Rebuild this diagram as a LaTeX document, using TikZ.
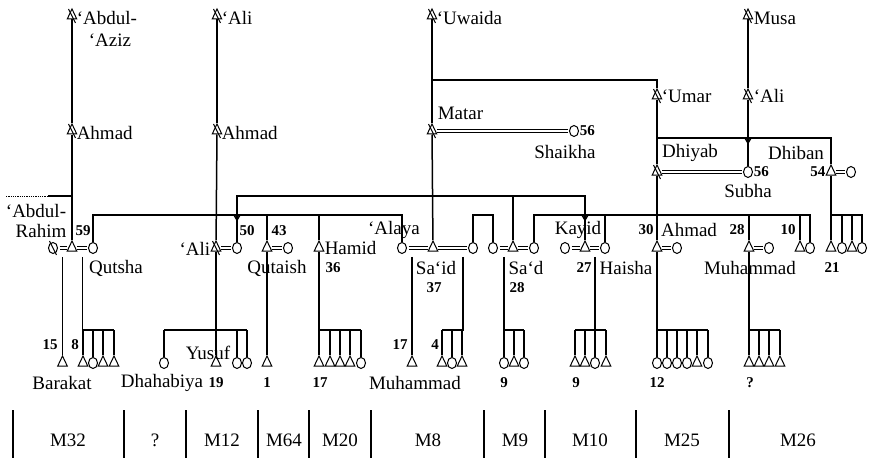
\documentclass[tikz,border=0pt]{standalone}
\usepackage{fontspec}
\setmainfont{Liberation Serif}
\usetikzlibrary{shapes.geometric,calc}

\begin{document}
\begin{tikzpicture}[x=1pt,y=-1pt,line width=1.5pt,
  every node/.style={inner sep=0pt},
  male/.style={draw,isosceles triangle,isosceles triangle stretches,shape border rotate=90,
    minimum width=9.5pt,minimum height=10pt,line width=1pt},
  female/.style={draw,ellipse,minimum width=9pt,minimum height=11pt,line width=1pt},
  deadmale/.style={male,append after command={([shift={(-3.5,-7)}]\tikzlastnode.center)
    edge[line width=1pt] ([shift={(3.5,7)}]\tikzlastnode.center)}},
  deadfemale/.style={female,append after command={([shift={(-3.5,-7)}]\tikzlastnode.center)
    edge[line width=1pt] ([shift={(3.5,7)}]\tikzlastnode.center)}},
  wed/.style={double distance=2pt,line width=0.8pt,shorten <=1.5pt,shorten >=1.5pt},
  nm/.style={font=\fontsize{19}{21}\selectfont},
  num/.style={font=\fontsize{15}{17}\selectfont\bfseries}]
  \useasboundingbox (0,0) rectangle (870,462);

  % upper generations
  \node[deadmale] (aziz) at (72,16) {};
  \node[deadmale] (aliT) at (217,16) {};
  \node[deadmale] (uwaida) at (432,16) {};
  \node[deadmale] (musa) at (748,16) {};
  \node[deadmale] (ahmadA) at (72,131) {};
  \node[deadmale] (ahmadB) at (217,131) {};
  \node[deadmale] (matar) at (432,131) {};
  \node[female] (shaikha) at (574,131) {};
  \node[deadmale] (umar) at (657,96) {};
  \node[deadmale] (aliR) at (748,96) {};
  \node[deadmale] (dhiyab) at (657,172) {};
  \node[female] (subha) at (748,172) {};
  \node[male] (dhiban) at (831,172) {};
  \node[female] (dhibanW) at (851,172) {};

  \node[nm,anchor=west] (tAziz) at (76,18) {‘Abdul-};
  \node[nm] (tAziz2) at (110,40) {‘Aziz};
  \node[nm,anchor=west] (tAliT) at (221,18) {‘Ali};
  \node[nm,anchor=west] (tUwaida) at (436,18) {‘Uwaida};
  \node[nm,anchor=west] (tMusa) at (753,18) {Musa};
  \node[nm,anchor=west] (tAhmadA) at (76,133) {Ahmad};
  \node[nm,anchor=west] (tAhmadB) at (221,133) {Ahmad};
  \node[nm,anchor=west] (tMatar) at (437,113) {Matar};
  \node[num,anchor=west] (nShaikha) at (579,131) {56};
  \node[nm] (tShaikha) at (565,152) {Shaikha};
  \node[nm,anchor=west] (tUmar) at (661,96) {‘Umar};
  \node[nm,anchor=west] (tAliR) at (753,96) {‘Ali};
  \node[nm] (tDhiyab) at (690,153) {Dhiyab};
  \node[nm] (tDhiban) at (796,153) {Dhiban};
  \node[num,anchor=west] (nSubha) at (753,172) {56};
  \node[nm] (tSubha) at (748,191) {Subha};
  \node[num,anchor=east] (nDhiban) at (826,172) {54};

  % married couples
  \node[deadfemale] (wifeR) at (53,248) {};
  \node[male] (rahim) at (72,248) {};
  \node[female] (qutsha) at (93,248) {};
  \node[deadmale] (aliL) at (216,248) {};
  \node[female] (wifeA) at (237,248) {};
  \node[male] (hus43) at (267,248) {};
  \node[female] (qutaish) at (288,248) {};
  \node[male] (hamid) at (319,248) {};
  \node[female] (alaya) at (402,248) {};
  \node[male] (said) at (433,248) {};
  \node[female] (wifeB) at (473,248) {};
  \node[female] (wifeC) at (493,248) {};
  \node[male] (saad) at (513,248) {};
  \node[female] (wifeD) at (534,248) {};
  \node[female] (wifeE) at (565,248) {};
  \node[male] (kayid) at (585,248) {};
  \node[female] (haisha) at (605,248) {};
  \node[male] (ahmadC) at (657,248) {};
  \node[female] (wifeF) at (677,248) {};
  \node[male] (muhd) at (749,248) {};
  \node[female] (wifeG) at (769,248) {};
  \node[male] (sonT) at (800,248) {};
  \node[female] (dauT) at (810,248) {};
  \foreach \x/\s [count=\i] in {831/male,842/female,852/male,862/female}
    \node[\s] (dk\i) at (\x,248) {};

  \node[nm] (tRahim1) at (36,211) {‘Abdul-};
  \node[nm] (tRahim2) at (41,231) {Rahim};
  \node[num] (nRahim) at (83,231) {59};
  \node[nm] (tQutsha) at (116,268) {Qutsha};
  \node[nm,anchor=east] (tAliL) at (211,249) {‘Ali};
  \node[num] (nWifeA) at (247,231) {50};
  \node[num] (nHus43) at (279,231) {43};
  \node[nm] (tQutaish) at (277,268) {Qutaish};
  \node[nm,anchor=west] (tHamid) at (324,248) {Hamid};
  \node[num] (nHamid) at (333,268) {36};
  \node[nm] (tAlaya) at (394,230) {‘Alaya};
  \node[nm] (tSaid) at (436,268) {Sa‘id};
  \node[num] (nSaid) at (434,288) {37};
  \node[nm] (tSaad) at (526,268) {Sa‘d};
  \node[num] (nSaad) at (517,288) {28};
  \node[nm] (tKayid) at (578,230) {Kayid};
  \node[num] (nKayid) at (584,268) {27};
  \node[nm] (tHaisha) at (626,268) {Haisha};
  \node[num] (nAhmadC) at (646,230) {30};
  \node[nm] (tAhmadC) at (689,230) {Ahmad};
  \node[num] (nMuhd) at (737,230) {28};
  \node[num] (nSonT) at (788,230) {10};
  \node[nm] (tMuhd) at (750,268) {Muhammad};
  \node[num] (nDhibanK) at (832,268) {21};

  % lines of descent, top part
  \draw (aziz) -- (ahmadA);
  \draw (ahmadA) -- (rahim);
  \coordinate (jR) at (72,196);
  \draw (jR) -- ++(-24,0) coordinate (jR2);
  \draw[densely dotted,line width=0.8pt] (jR2) -- ++(-42,0);
  \draw (aliT) -- (ahmadB);
  \draw (ahmadB) -- (aliL);
  \draw (uwaida) -- (matar);
  \draw (matar) -- (said);
  \draw (uwaida |- 0,80) -| (umar);
  \draw (umar) -- (dhiyab);
  \draw (umar |- 0,138) -| (dhiban);
  \draw (musa) -- (aliR);
  \draw (aliR) -- (subha);
  \draw (aliR |- 0,143) ++(-3,-5) -- ++(3,5) -- ++(3,-5);
  \draw (dhiyab) -- (ahmadC);
  \draw (dhiban) -- (dk1);

  % marriages
  \draw[wed] (matar) -- (shaikha);
  \draw[wed] (dhiyab) -- (subha);
  \draw[wed] (dhiban) -- (dhibanW);
  \draw[wed] (wifeR) -- (rahim);
  \draw[wed] (rahim) -- (qutsha);
  \draw[wed] (aliL) -- (wifeA);
  \draw[wed] (hus43) -- (qutaish);
  \draw[wed] (alaya) -- (said);
  \draw[wed] (said) -- (wifeB);
  \draw[wed] (wifeC) -- (saad);
  \draw[wed] (saad) -- (wifeD);
  \draw[wed] (wifeE) -- (kayid);
  \draw[wed] (kayid) -- (haisha);
  \draw[wed] (ahmadC) -- (wifeF);
  \draw[wed] (muhd) -- (wifeG);

  % sibling lines
  \draw (qutsha) -- (qutsha.north |- 0,215) -- (alaya.north |- 0,215) -- (alaya);
  \draw (hus43) -- (hus43.north |- 0,215);
  \draw (hamid) -- (hamid.north |- 0,215);
  \draw (wifeA) -- (wifeA.north |- 0,196) -- (kayid.north |- 0,196) -- (kayid);
  \draw (saad) -- (saad.north |- 0,196);
  \draw (wifeA.north |- 0,220) ++(-3,-5) -- ++(3,5) -- ++(3,-5);
  \draw (kayid.north |- 0,220) ++(-3,-5) -- ++(3,5) -- ++(3,-5);
  \draw (wifeB) -- (wifeB.north |- 0,215) -- (wifeC.north |- 0,215) -- (wifeC);
  \draw (wifeD) -- (wifeD.north |- 0,215) -- (dauT.north |- 0,215) -- (dauT);
  \foreach \n in {haisha,muhd,sonT}
    \draw (\n) -- (\n.north |- 0,215);
  \draw (dk1.north |- 0,215) -- (dk4.north |- 0,215) -- (dk4);
  \draw (dk2) -- (dk2.north |- 0,215);
  \draw (dk3) -- (dk3.north |- 0,215);

  % children
  \coordinate (mR) at ($(wifeR)!.5!(rahim)+(0,9)$);
  \coordinate (mQ) at ($(rahim)!.5!(qutsha)+(0,9)$);
  \coordinate (mS1) at (412,257);
  \coordinate (mS2) at (463,257);
  \coordinate (mD) at (504,257);
  \coordinate (mK) at ($(kayid)!.5!(haisha)+(0,9)$);

  \node[male] (barakat) at (62.5,363) {};
  \draw (mR) -- (barakat);
  \foreach \x/\s [count=\i] in {83/male,93/female,103/male,114/male}
    {\node[\s] (q\i) at (\x,363) {}; \draw (q\i) -- (q\i.north |- 0,330);}
  \draw (mQ) |- (q4.north |- 0,330);
  \foreach \x/\s [count=\i] in {164/female,216/male,237/female,247/female}
    {\node[\s] (y\i) at (\x,363) {}; \draw (y\i) -- (y\i.north |- 0,330);}
  \draw (aliL) -- (y2);
  \draw (y1.north |- 0,330) -- (y4.north |- 0,330);
  \node[male] (k43) at (267,363) {};
  \draw (hus43) -- (k43);
  \foreach \x/\s [count=\i] in {319/male,330/male,340/male,350/male,361/female}
    {\node[\s] (h\i) at (\x,363) {}; \draw (h\i) -- (h\i.north |- 0,330);}
  \draw (hamid) |- (h5.north |- 0,330);
  \node[male] (sm) at (412,363) {};
  \draw (mS1) -- (sm);
  \foreach \x/\s [count=\i] in {442/male,452/female,462/male}
    {\node[\s] (s\i) at (\x,363) {}; \draw (s\i) -- (s\i.north |- 0,330);}
  \draw (mS2) |- (s1.north |- 0,330);
  \foreach \x/\s [count=\i] in {504/female,514/male,524/female}
    {\node[\s] (a\i) at (\x,363) {}; \draw (a\i) -- (a\i.north |- 0,330);}
  \draw (mD) |- (a3.north |- 0,330);
  \foreach \x/\s [count=\i] in {575/male,585/male,595/female,606/male}
    {\node[\s] (k\i) at (\x,363) {}; \draw (k\i) -- (k\i.north |- 0,330);}
  \draw (mK) -- (k3);
  \draw (k1.north |- 0,330) -- (k4.north |- 0,330);
  \foreach \x/\s [count=\i] in {657/female,667/female,677/female,687/female,697/male,708/female}
    {\node[\s] (c\i) at (\x,363) {}; \draw (c\i) -- (c\i.north |- 0,330);}
  \draw (ahmadC) -- (c1);
  \draw (c1.north |- 0,330) -- (c6.north |- 0,330);
  \foreach \x [count=\i] in {749,759,769,780}
    {\node[male] (m\i) at (\x,363) {}; \draw (m\i) -- (m\i.north |- 0,330);}
  \draw (muhd) -- (m1);
  \draw (m1.north |- 0,330) -- (m4.north |- 0,330);

  \node[num] (nBarakat) at (50,345) {15};
  \node[num] (nQ) at (75,345) {8};
  \node[nm] (tBarakat) at (62,383) {Barakat};
  \node[nm] (tYusuf) at (208,353) {Yusuf};
  \node[nm] (tDhahabiya) at (162,383) {Dhahabiya};
  \node[num] (nYusuf) at (216,383) {19};
  \node[num] (nK43) at (267,383) {1};
  \node[num] (nH) at (320,383) {17};
  \node[num] (nSm) at (400,345) {17};
  \node[num] (nS) at (435,345) {4};
  \node[nm] (tSm) at (415,383) {Muhammad};
  \node[num] (nA) at (504,383) {9};
  \node[num] (nK) at (576,383) {9};
  \node[num] (nC) at (657,383) {12};
  \node[num] (nM) at (750,383) {?};

  % lineage groups
  \foreach \x in {13,124,186,258,309,371,484,545,636,729}
    \draw (\x,410) -- (\x,458);
  \foreach \x/\t [count=\i] in {68/M32,155/?,222/M12,284/M64,340/M20,428/M8,515/M9,590/M10,682/M25,798/M26}
    \node[nm] (grp\i) at (\x,440) {\t};
\end{tikzpicture}
\end{document}
